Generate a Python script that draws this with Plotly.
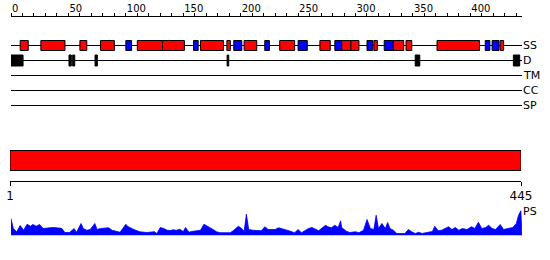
import plotly.graph_objects as go

W, H = 550, 260
seq_len = 445

# Secondary structure elements: start, end, type (H = helix red, E = strand blue)
ss_start = [8, 26, 60, 78, 100, 110, 132, 159, 165, 188, 194, 203, 221, 234, 250, 269, 282, 288, 296, 310, 316, 325, 333, 344, 371, 413, 419, 426]
ss_end   = [15, 47, 66, 90, 105, 132, 151, 163, 185, 191, 201, 214, 225, 247, 258, 278, 288, 296, 303, 315, 319, 333, 342, 349, 408, 417, 425, 429]
ss_type  = ['H', 'H', 'H', 'H', 'E', 'H', 'H', 'E', 'H', 'H', 'E', 'H', 'E', 'H', 'E', 'H', 'E', 'H', 'H', 'E', 'H', 'E', 'H', 'H', 'H', 'E', 'E', 'H']

# Disorder segments
d_start = [0, 50.5, 53.7, 73.2, 188.2, 352, 437.5]
d_end   = [10.5, 52.5, 55.5, 75.2, 189.6, 356, 443]

# Track labels
track_names = ['SS', 'D', 'TM', 'CC', 'SP']
track_y = [45.5, 60.5, 75.5, 90.5, 105.5]

# PS profile
ps_pos = [0, 1, 2, 5, 8, 11, 14, 17, 19, 22, 25, 28, 31, 34, 37, 40, 43, 44, 47, 51, 55, 57, 61, 63, 66, 69,
          73, 75, 78, 82, 85, 88, 91, 95, 100, 102, 107, 110, 112, 118, 123, 125, 127, 130, 133, 136, 139,
          141, 144, 147, 150, 152, 155, 157, 162, 165, 168, 171, 173, 176, 179, 182, 191, 194, 198, 201, 203,
          205, 207, 211, 215, 218, 221, 224, 227, 230, 233, 236, 239, 242, 247, 250, 253, 259, 262, 265, 268,
          271, 274, 276, 279, 282, 285, 287, 288, 292, 295, 300, 303, 307, 310, 313, 316, 318, 320, 323, 326,
          328, 330, 333, 336, 343, 346, 349, 352, 355, 358, 361, 364, 367, 369, 372, 375, 378, 381, 384, 387,
          390, 393, 397, 401, 404, 407, 410, 413, 416, 419, 422, 426, 429, 433, 437, 440, 442, 444, 445]
ps_val = [0.68, 0.48, 0.28, 0.15, 0.40, 0.21, 0.45, 0.37, 0.44, 0.37, 0.44, 0.28, 0.31, 0.31, 0.32, 0.31, 0.28, 0.29, 0.12, 0.12, 0.28, 0.12, 0.48, 0.28, 0.21, 0.24,
          0.48, 0.24, 0.28, 0.31, 0.31, 0.21, 0.17, 0.13, 0.45, 0.35, 0.24, 0.19, 0.15, 0.12, 0.15, 0.15, 0.08, 0.32, 0.28, 0.21, 0.20,
          0.23, 0.21, 0.25, 0.16, 0.32, 0.13, 0.16, 0.19, 0.21, 0.45, 0.35, 0.32, 0.24, 0.15, 0.11, 0.11, 0.21, 0.37, 0.28, 0.16,
          0.85, 0.24, 0.21, 0.20, 0.19, 0.35, 0.24, 0.24, 0.24, 0.31, 0.26, 0.24, 0.19, 0.11, 0.24, 0.11, 0.28, 0.32, 0.25, 0.19,
          0.31, 0.41, 0.35, 0.31, 0.41, 0.32, 0.59, 0.32, 0.17, 0.12, 0.15, 0.11, 0.21, 0.64, 0.28, 0.24, 0.81, 0.28, 0.48, 0.28,
          0.52, 0.28, 0.21, 0.08, 0.08, 0.24, 0.15, 0.08, 0.13, 0.08, 0.11, 0.15, 0.16, 0.37, 0.19, 0.21, 0.28, 0.35, 0.24, 0.32,
          0.21, 0.28, 0.24, 0.35, 0.28, 0.53, 0.28, 0.31, 0.41, 0.28, 0.24, 0.44, 0.24, 0.28, 0.32, 0.48, 0.81, 0.99, 0.0]

FONT = "DejaVu Sans"
colors = {'H': '#FF0000', 'E': '#0000FF'}

def py(p):
    return (H - p) / H

XDOM = [11 / W, 522 / W]

fig = go.Figure()

# PS profile (own subplot x4 / y2)
fig.add_trace(go.Scatter(x=ps_pos, y=ps_val, xaxis='x4', yaxis='y2', mode='lines',
                         line=dict(color='#0000FF', width=0.8), fill='tozeroy',
                         fillcolor='#0000FF', hoverinfo='skip', showlegend=False))
# main track subplot anchor
fig.add_trace(go.Scatter(x=[0, seq_len], y=[None, None], xaxis='x', yaxis='y',
                         mode='markers', hoverinfo='skip', showlegend=False))
# top ruler
fig.add_trace(go.Scatter(x=[0, seq_len], y=[None, None], xaxis='x2', yaxis='y',
                         mode='markers', hoverinfo='skip', showlegend=False))
# sequence ruler
fig.add_trace(go.Scatter(x=[1, seq_len], y=[None, None], xaxis='x3', yaxis='y',
                         mode='markers', hoverinfo='skip', showlegend=False))

shapes = []
for ty in track_y:
    shapes.append(dict(type='line', xref='x', yref='y', x0=0, x1=seq_len, y0=ty, y1=ty,
                       line=dict(color='black', width=1)))
for s, e, t in zip(ss_start, ss_end, ss_type):
    shapes.append(dict(type='rect', xref='x', yref='y', x0=s, x1=e, y0=40.5, y1=50.5,
                       fillcolor=colors[t], line=dict(color='black', width=1)))
for s, e in zip(d_start, d_end):
    shapes.append(dict(type='rect', xref='x', yref='y', x0=s, x1=e, y0=55, y1=66,
                       fillcolor='black', line=dict(color='black', width=1)))
shapes.append(dict(type='rect', xref='x3', yref='y', x0=1, x1=seq_len, y0=150.5, y1=170.5,
                   fillcolor='#FF0000', line=dict(color='black', width=1)))

annotations = []
for name, ty in zip(track_names, track_y):
    annotations.append(dict(text=name, x=520.5 / W, y=ty, xref='paper', yref='y',
                            xanchor='left', yanchor='middle', showarrow=False,
                            font=dict(family=FONT, size=11, color='black')))
annotations.append(dict(text='PS', x=521 / W, y=211, xref='paper', yref='y',
                        xanchor='left', yanchor='middle', showarrow=False,
                        font=dict(family=FONT, size=11, color='black')))

hidden = dict(visible=False, showgrid=False, zeroline=False, automargin=False)

fig.update_layout(
    template='none',
    width=W, height=H, margin=dict(l=0, r=0, t=0, b=0, pad=0),
    paper_bgcolor='white', plot_bgcolor='rgba(0,0,0,0)',
    shapes=shapes, annotations=annotations, showlegend=False,
    xaxis=dict(domain=XDOM, range=[0, seq_len], anchor='y', **hidden),
    yaxis=dict(domain=[0, 1], range=[H, 0], anchor='x', **hidden),
    xaxis2=dict(domain=XDOM, range=[0, seq_len], side='top', anchor='free',
                position=py(15.5), showline=True, linecolor='black', linewidth=1,
                ticks='outside', ticklen=3, tickcolor='black', tickwidth=1,
                tickmode='linear', tick0=0, dtick=50,
                minor=dict(dtick=10, ticks='outside', ticklen=3, tickcolor='black', tickwidth=1),
                ticklabelposition='outside right', showgrid=False, zeroline=False,
                automargin=False, tickfont=dict(family=FONT, size=10, color='black')),
    xaxis3=dict(domain=[10 / W, 521 / W], range=[1, seq_len], side='bottom', anchor='free',
                position=py(181), showline=True, linecolor='black', linewidth=1,
                ticks='outside', ticklen=4, tickcolor='black', tickwidth=1, tickvals=[1, seq_len],
                showgrid=False, zeroline=False, automargin=False,
                tickfont=dict(family=FONT, size=12, color='black')),
    xaxis4=dict(domain=XDOM, range=[0, seq_len], anchor='y2', **hidden),
    yaxis2=dict(domain=[py(235.5), py(205)], range=[0, 1.22], anchor='x4', **hidden),
)

fig.write_html("out.html")
